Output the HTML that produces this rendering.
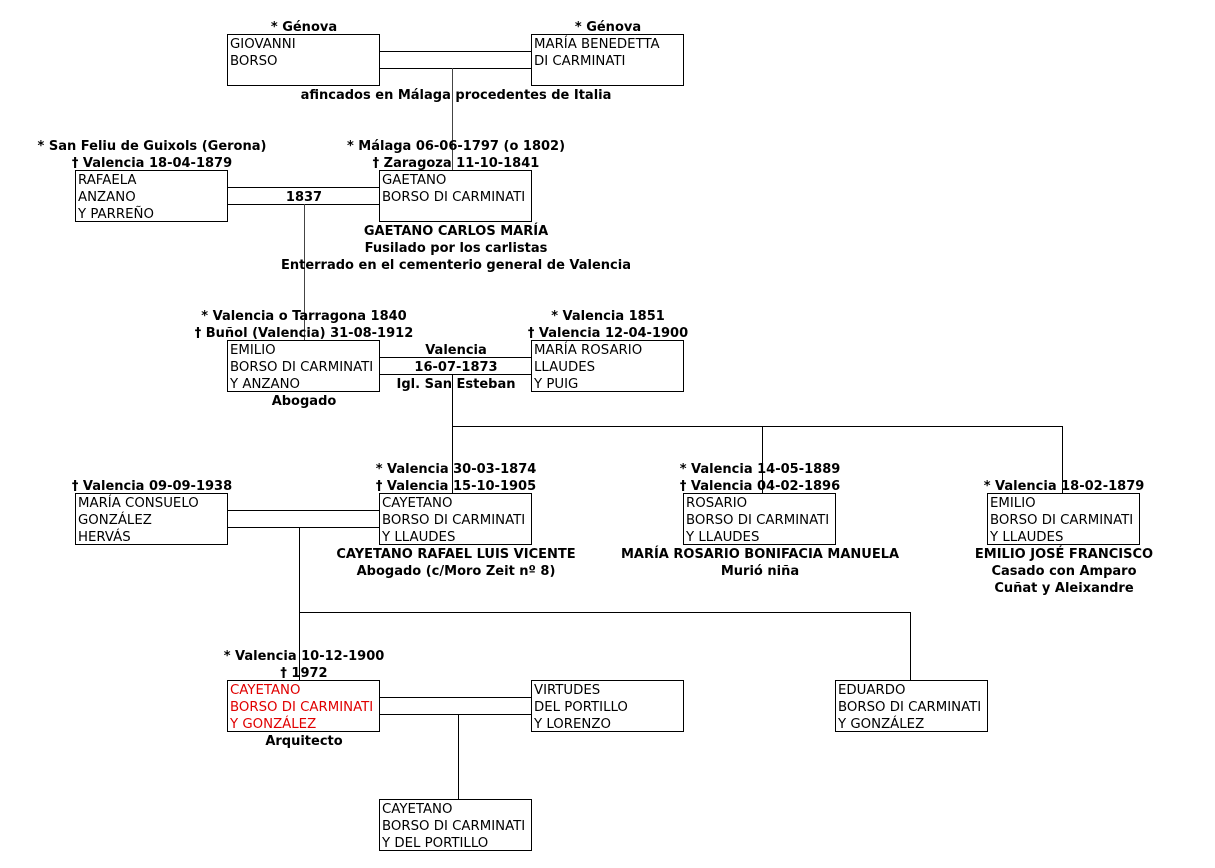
<!DOCTYPE html>
<html>
<head>
<meta charset="utf-8">
<style>
html,body{margin:0;padding:0;background:#fff;}
svg{display:block;}
.b{font-family:"DejaVu Sans","Liberation Sans",sans-serif;font-size:13px;font-weight:bold;fill:#000;}
.t{font-family:"DejaVu Sans","Liberation Sans",sans-serif;font-size:13.3px;fill:#000;}
.r{fill:#e00000;}
rect{fill:#fff;stroke:#000;stroke-width:1;}
line{stroke:#000;stroke-width:1;}
.g{stroke:#444;}
</style>
</head>
<body>
<svg width="1215" height="868" viewBox="0 0 1215 868" xmlns="http://www.w3.org/2000/svg">
<!-- connectors -->
<line x1="380" y1="51.5" x2="531" y2="51.5"/>
<line x1="380" y1="68.5" x2="531" y2="68.5"/>
<line class="g" x1="452.5" y1="68" x2="452.5" y2="170"/>

<line x1="228" y1="187.5" x2="379" y2="187.5"/>
<line x1="228" y1="204.5" x2="379" y2="204.5"/>
<line class="g" x1="304.5" y1="204" x2="304.5" y2="340"/>

<line x1="380" y1="357.5" x2="531" y2="357.5"/>
<line x1="380" y1="374.5" x2="531" y2="374.5"/>
<line x1="452.5" y1="374" x2="452.5" y2="493"/>
<line x1="452" y1="426.5" x2="1063" y2="426.5"/>
<line x1="762.5" y1="426" x2="762.5" y2="493"/>
<line x1="1062.5" y1="426" x2="1062.5" y2="493"/>

<line x1="228" y1="510.5" x2="379" y2="510.5"/>
<line x1="228" y1="527.5" x2="379" y2="527.5"/>
<line x1="299.5" y1="527" x2="299.5" y2="680"/>
<line x1="299" y1="612.5" x2="911" y2="612.5"/>
<line x1="910.5" y1="612" x2="910.5" y2="680"/>

<line x1="380" y1="697.5" x2="531" y2="697.5"/>
<line x1="380" y1="714.5" x2="531" y2="714.5"/>
<line x1="458.5" y1="714" x2="458.5" y2="799"/>

<!-- boxes -->
<rect x="227.5" y="34.5" width="152" height="51"/>
<rect x="531.5" y="34.5" width="152" height="51"/>
<rect x="75.5" y="170.5" width="152" height="51"/>
<rect x="379.5" y="170.5" width="152" height="51"/>
<rect x="227.5" y="340.5" width="152" height="51"/>
<rect x="531.5" y="340.5" width="152" height="51"/>
<rect x="75.5" y="493.5" width="152" height="51"/>
<rect x="379.5" y="493.5" width="152" height="51"/>
<rect x="683.5" y="493.5" width="152" height="51"/>
<rect x="987.5" y="493.5" width="152" height="51"/>
<rect x="227.5" y="680.5" width="152" height="51"/>
<rect x="531.5" y="680.5" width="152" height="51"/>
<rect x="835.5" y="680.5" width="152" height="51"/>
<rect x="379.5" y="799.5" width="152" height="51"/>

<!-- box texts -->
<g class="t">
<text x="230" y="48">GIOVANNI</text>
<text x="230" y="65">BORSO</text>
<text x="534" y="48">MARÍA BENEDETTA</text>
<text x="534" y="65">DI CARMINATI</text>

<text x="78" y="184">RAFAELA</text>
<text x="78" y="201">ANZANO</text>
<text x="78" y="218">Y PARREÑO</text>
<text x="382" y="184">GAETANO</text>
<text x="382" y="201">BORSO DI CARMINATI</text>

<text x="230" y="354">EMILIO</text>
<text x="230" y="371">BORSO DI CARMINATI</text>
<text x="230" y="388">Y ANZANO</text>
<text x="534" y="354">MARÍA ROSARIO</text>
<text x="534" y="371">LLAUDES</text>
<text x="534" y="388">Y PUIG</text>

<text x="78" y="507">MARÍA CONSUELO</text>
<text x="78" y="524">GONZÁLEZ</text>
<text x="78" y="541">HERVÁS</text>
<text x="382" y="507">CAYETANO</text>
<text x="382" y="524">BORSO DI CARMINATI</text>
<text x="382" y="541">Y LLAUDES</text>
<text x="686" y="507">ROSARIO</text>
<text x="686" y="524">BORSO DI CARMINATI</text>
<text x="686" y="541">Y LLAUDES</text>
<text x="990" y="507">EMILIO</text>
<text x="990" y="524">BORSO DI CARMINATI</text>
<text x="990" y="541">Y LLAUDES</text>

<text class="r" x="230" y="694">CAYETANO</text>
<text class="r" x="230" y="711">BORSO DI CARMINATI</text>
<text class="r" x="230" y="728">Y GONZÁLEZ</text>
<text x="534" y="694">VIRTUDES</text>
<text x="534" y="711">DEL PORTILLO</text>
<text x="534" y="728">Y LORENZO</text>
<text x="838" y="694">EDUARDO</text>
<text x="838" y="711">BORSO DI CARMINATI</text>
<text x="838" y="728">Y GONZÁLEZ</text>

<text x="382" y="813">CAYETANO</text>
<text x="382" y="830">BORSO DI CARMINATI</text>
<text x="382" y="847">Y DEL PORTILLO</text>
</g>

<!-- bold labels -->
<g class="b" text-anchor="middle">
<text x="304" y="31">* Génova</text>
<text x="608" y="31">* Génova</text>
<text x="456" y="99">afincados en Málaga procedentes de Italia</text>

<text x="152" y="150">* San Feliu de Guixols (Gerona)</text>
<text x="152" y="167">† Valencia 18-04-1879</text>
<text x="456" y="150">* Málaga 06-06-1797 (o 1802)</text>
<text x="456" y="167">† Zaragoza 11-10-1841</text>
<text x="304" y="201">1837</text>
<text x="456" y="235">GAETANO CARLOS MARÍA</text>
<text x="456" y="252">Fusilado por los carlistas</text>
<text x="456" y="269">Enterrado en el cementerio general de Valencia</text>

<text x="304" y="320">* Valencia o Tarragona 1840</text>
<text x="304" y="337">† Buñol (Valencia) 31-08-1912</text>
<text x="608" y="320">* Valencia 1851</text>
<text x="608" y="337">† Valencia 12-04-1900</text>
<text x="456" y="354">Valencia</text>
<text x="456" y="371">16-07-1873</text>
<text x="456" y="388">Igl. San Esteban</text>
<text x="304" y="405">Abogado</text>

<text x="152" y="490">† Valencia 09-09-1938</text>
<text x="456" y="473">* Valencia 30-03-1874</text>
<text x="456" y="490">† Valencia 15-10-1905</text>
<text x="760" y="473">* Valencia 14-05-1889</text>
<text x="760" y="490">† Valencia 04-02-1896</text>
<text x="1064" y="490">* Valencia 18-02-1879</text>

<text x="456" y="558">CAYETANO RAFAEL LUIS VICENTE</text>
<text x="456" y="575">Abogado (c/Moro Zeit nº 8)</text>
<text x="760" y="558">MARÍA ROSARIO BONIFACIA MANUELA</text>
<text x="760" y="575">Murió niña</text>
<text x="1064" y="558">EMILIO JOSÉ FRANCISCO</text>
<text x="1064" y="575">Casado con Amparo</text>
<text x="1064" y="592">Cuñat y Aleixandre</text>

<text x="304" y="660">* Valencia 10-12-1900</text>
<text x="304" y="677">† 1972</text>
<text x="304" y="745">Arquitecto</text>
</g>
</svg>
</body>
</html>
